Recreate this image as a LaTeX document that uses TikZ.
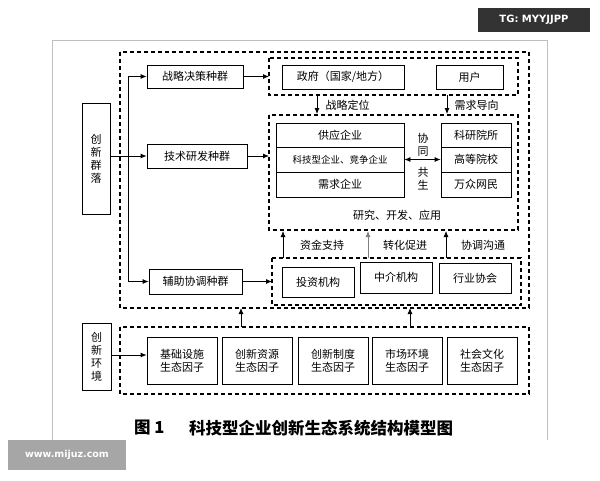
\documentclass[tikz,border=0pt]{standalone}
\usepackage{fontspec}
\newfontfamily\cjk{Noto Sans CJK SC}
\usetikzlibrary{arrows.meta}
\begin{document}
\begin{tikzpicture}[x=1pt,y=-1pt,
  box/.style={draw,thick,font=\cjk\fontsize{11}{13}\selectfont,inner sep=0pt},
  dbox/.style={draw,very thick,dash pattern=on 4pt off 3pt},
  lbl/.style={font=\cjk\fontsize{11}{13}\selectfont},
  captext/.style={font=\cjk\bfseries\fontsize{16.5}{18}\selectfont,anchor=west,inner sep=0pt},
  arr/.style={-{Latex[length=6pt,width=5pt]},thick}]
\useasboundingbox (0,0) rectangle (600,480);
\draw[gray!50,thick] (52,40) -- (52,440) (547,40) -- (547,440) (52,40) -- (547,40);
% dashed groups
\draw[dbox] (120,52) rectangle (529,308);
\draw[dbox] (269,58) rectangle (518,95);
\draw[dbox] (269,115) rectangle (518,230);
\draw[dbox] (272,258) rectangle (521,305);
\draw[dbox] (120,327) rectangle (529,394);
% left boxes
\node[box,minimum width=28pt,minimum height=111pt,align=center] (qun) at (96,158.5) {创\\新\\群\\落};
\node[box,minimum width=29pt,minimum height=67pt,align=center] (env) at (96.5,356.5) {创\\新\\环\\境};
% species
\node[box,minimum width=96pt,minimum height=23pt] (s1) at (195,76.5) {战略决策种群};
\node[box,minimum width=100pt,minimum height=24pt] (s2) at (197,156) {技术研发种群};
\node[box,minimum width=93pt,minimum height=25pt] (s3) at (195.5,281.5) {辅助协调种群};
\coordinate (t1) at (128,76.5);
\coordinate (t2) at (128,156);
\coordinate (t3) at (128,281.5);
\draw[thick] (t1) -- (t3);
\draw[thick] (qun.east |- t2) -- (t2);
\draw[arr] (t1) -- (s1.west);
\draw[arr] (t2) -- (s2.west);
\draw[arr] (t3) -- (s3.west);
\coordinate (d1) at (269,76.5);
\coordinate (d2) at (269,156);
\coordinate (d3) at (272,281.5);
\draw[arr] (s1.east) -- (d1);
\draw[arr] (s2.east) -- (d2);
\draw[arr] (s3.east) -- (d3);
% top group
\node[box,minimum width=122pt,minimum height=24pt] (gov) at (343,77) {政府（国家/地方）};
\node[box,minimum width=67pt,minimum height=24pt] (user) at (469.5,77) {用户};
\coordinate (a1s) at (317,95); \coordinate (a1e) at (317,114);
\coordinate (a2s) at (447,95); \coordinate (a2e) at (447,114);
\draw[arr] (a1s) -- (a1e);
\draw[arr] (a2s) -- (a2e);
\node[lbl,anchor=west] (l1) at (322,105) {战略定位};
\node[lbl,anchor=west] (l2) at (451,105) {需求导向};
% middle group
\node[box,minimum width=128pt,minimum height=24pt] (m1) at (340,135) {供应企业};
\node[box,minimum width=128pt,minimum height=25pt,font=\cjk\fontsize{9.5}{11}\selectfont] (m2) at (340,159.5) {科技型企业、竞争企业};
\node[box,minimum width=128pt,minimum height=25pt] (m3) at (340,184.5) {需求企业};
\node[box,minimum width=70pt,minimum height=24pt] (r1) at (476,135) {科研院所};
\node[box,minimum width=70pt,minimum height=25pt] (r2) at (476,159.5) {高等院校};
\node[box,minimum width=70pt,minimum height=25pt] (r3) at (476,184.5) {万众网民};
\draw[{Latex[length=6pt,width=5pt]}-{Latex[length=6pt,width=5pt]},thick] (m2.east) -- (r2.west);
\node[lbl,align=center,inner sep=0pt] (xt) at (423,145) {协\\同};
\node[lbl,align=center,inner sep=0pt] (gs) at (423,179) {共\\生};
\node[lbl] (yf) at (397,215) {研究、开发、应用};
% bottom group
\node[box,minimum width=72pt,minimum height=30pt] (b1) at (318,282) {投资机构};
\node[box,minimum width=72pt,minimum height=31pt] (b2) at (396,277.5) {中介机构};
\node[box,minimum width=72pt,minimum height=30pt] (b3) at (475,278) {行业协会};
\coordinate (u1s) at (283,258); \coordinate (u1e) at (283,231);
\coordinate (u2s) at (368,258); \coordinate (u2e) at (368,231);
\coordinate (u3s) at (446,258); \coordinate (u3e) at (446,231);
\draw[arr] (u1s) -- (u1e);
\draw[arr,gray] (u2s) -- (u2e);
\draw[arr] (u3s) -- (u3e);
\node[lbl] (k1) at (322,245) {资金支持};
\node[lbl] (k2) at (405,245) {转化促进};
\node[lbl] (k3) at (483,245) {协调沟通};
% environment
\node[box,minimum width=70pt,minimum height=47pt,align=center] (f1) at (182,360.5) {基础设施\\生态因子};
\node[box,minimum width=70pt,minimum height=47pt,align=center] (f2) at (257,360.5) {创新资源\\生态因子};
\node[box,minimum width=70pt,minimum height=47pt,align=center] (f3) at (333,360.5) {创新制度\\生态因子};
\node[box,minimum width=70pt,minimum height=47pt,align=center] (f4) at (407,360.5) {市场环境\\生态因子};
\node[box,minimum width=70pt,minimum height=47pt,align=center] (f5) at (482,360.5) {社会文化\\生态因子};
\coordinate (e0) at (111,355);
\draw[arr] (e0) -- (f1.west |- e0);
\coordinate (v1s) at (241,327); \coordinate (v1e) at (241,308);
\coordinate (v2s) at (410,327); \coordinate (v2e) at (410,308);
\draw[arr] (v1s) -- (v1e);
\draw[arr] (v2s) -- (v2e);
% caption
\node[captext] (capn) at (134,428) {图 1};
\node[captext] (capt) at (189,428) {科技型企业创新生态系统结构模型图};
% watermarks
\node[fill=black!80,text=white,font=\fontspec{DejaVu Sans}\bfseries\fontsize{10}{12}\selectfont,minimum width=112pt,minimum height=24pt] (wm1) at (534,20) {TG: MYYJJPP};
\node[fill=gray!70,text=white,font=\fontspec{DejaVu Sans}\bfseries\fontsize{9.5}{12}\selectfont,minimum width=118pt,minimum height=30pt] (wm2) at (67,455) {www.mijuz.com};
\end{tikzpicture}
\end{document}
